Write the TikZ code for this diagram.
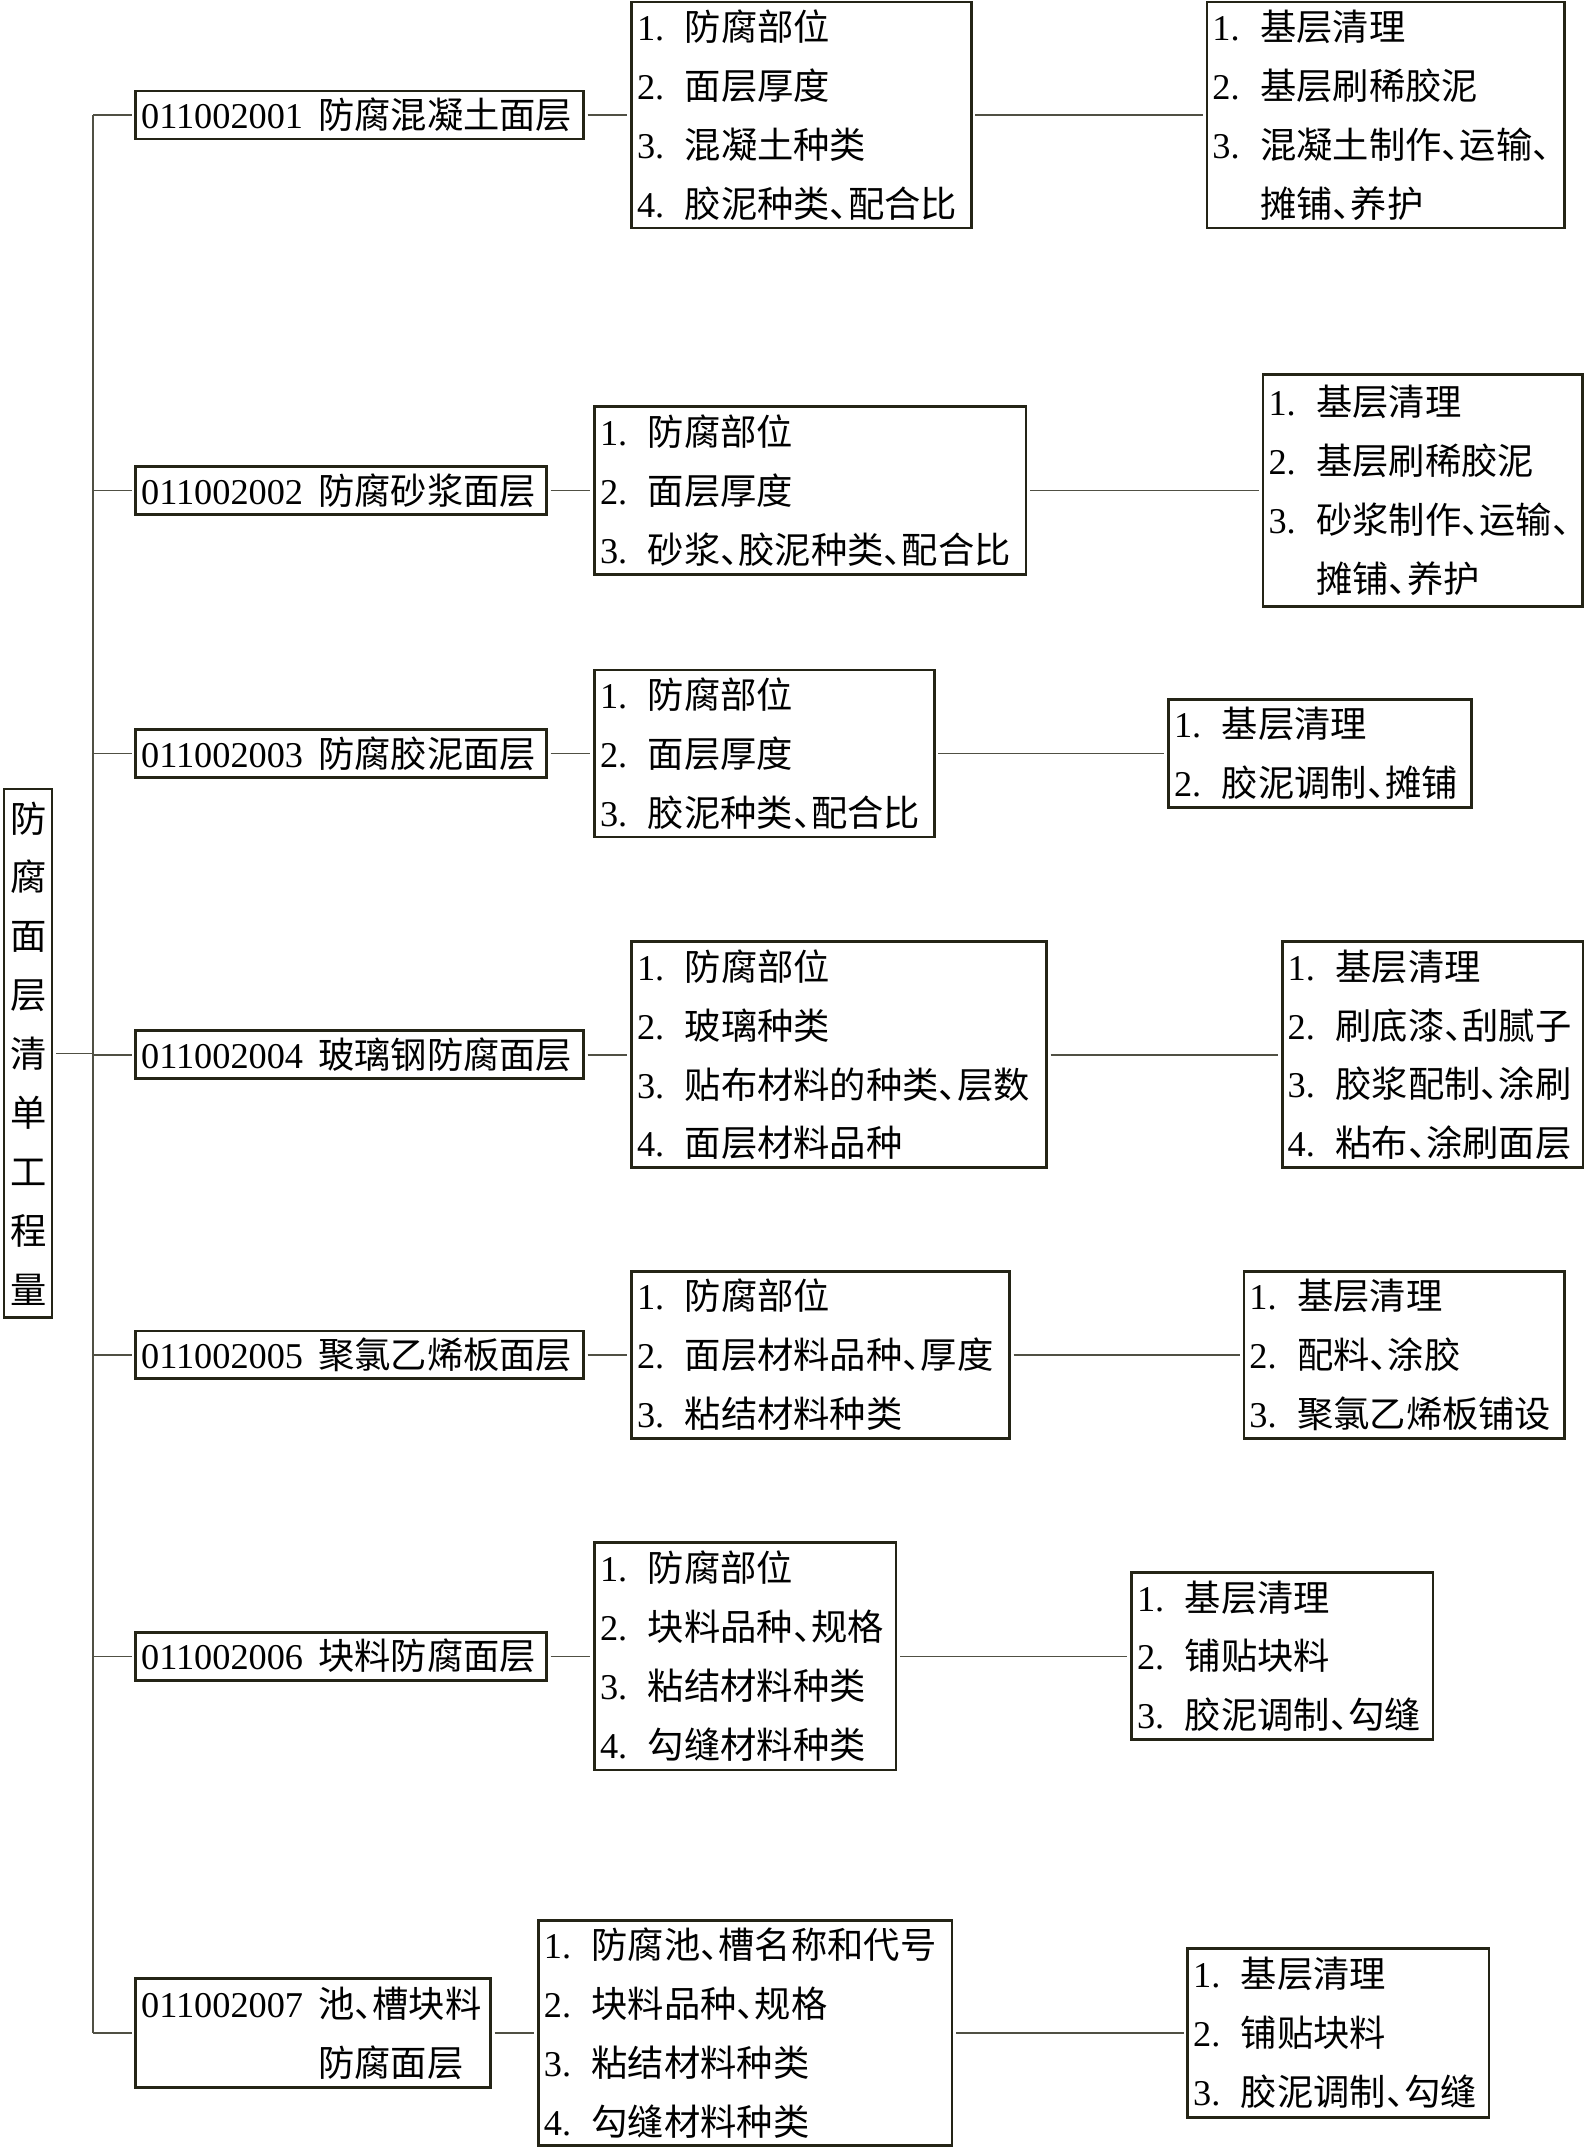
\documentclass[tikz,border=0pt]{standalone}
\usepackage{fontspec}
\setmainfont{Liberation Serif}
\newfontfamily\cjk{Noto Sans CJK SC}
\usetikzlibrary{calc}

\definecolor{boxc}{RGB}{36,36,22}
\definecolor{linec}{RGB}{80,80,68}
\newcommand\fs{\fontsize{26.5}{43}\selectfont}
\newcommand\dun{\makebox[0.5em][l]{、}}
\newcommand\numline[2]{\mbox{#1.\hspace{15pt}{\cjk #2}}}
\newcommand\contline[1]{\mbox{\phantom{0.}\hspace{15pt}{\cjk #1}}}
\newcommand\codeline[2]{\mbox{#1\hspace{11pt}{\cjk #2}}}

\begin{document}
\begin{tikzpicture}[x=1pt,y=-1pt,
  box/.style={draw=boxc,line width=2pt,fill=white,anchor=west,align=left,
    inner xsep=3pt,inner ysep=0pt,font=\fs},
  link/.style={draw=linec,line width=1pt},
  gap/.style={shorten <=2pt,shorten >=2pt}]
\useasboundingbox (0,0) rectangle (1156,1568);

% root
\node[box,align=center,text width=26pt,minimum width=35pt,minimum height=386pt,
  inner xsep=0pt,font=\fs\cjk] (root) at (2,769)
  {防\\腐\\面\\层\\清\\单\\工\\程\\量};

% 011002001
\node[box,minimum width=327pt,minimum height=35pt,text width=319pt] (c1) at (98,84)
  {\codeline{011002001}{防腐混凝土面层}};
\node[box,minimum width=248pt,minimum height=165pt,text width=240pt] (m1) at (460,84)
  {\numline{1}{防腐部位}\\ \numline{2}{面层厚度}\\ \numline{3}{混凝土种类}\\ \numline{4}{胶泥种类\dun 配合比}};
\node[box,minimum width=261pt,minimum height=165pt,text width=253pt] (r1) at (880,84)
  {\numline{1}{基层清理}\\ \numline{2}{基层刷稀胶泥}\\ \numline{3}{混凝土制作\dun 运输\dun}\\ \contline{摊铺\dun 养护}};

% 011002002
\node[box,minimum width=300pt,minimum height=35pt,text width=292pt] (c2) at (98,358)
  {\codeline{011002002}{防腐砂浆面层}};
\node[box,minimum width=315pt,minimum height=123pt,text width=307pt] (m2) at (433,358)
  {\numline{1}{防腐部位}\\ \numline{2}{面层厚度}\\ \numline{3}{砂浆\dun 胶泥种类\dun 配合比}};
\node[box,minimum width=233pt,minimum height=169pt,text width=225pt] (r2) at (921,358)
  {\numline{1}{基层清理}\\ \numline{2}{基层刷稀胶泥}\\ \numline{3}{砂浆制作\dun 运输\dun}\\ \contline{摊铺\dun 养护}};

% 011002003
\node[box,minimum width=300pt,minimum height=35pt,text width=292pt] (c3) at (98,550)
  {\codeline{011002003}{防腐胶泥面层}};
\node[box,minimum width=248pt,minimum height=122pt,text width=240pt] (m3) at (433,550)
  {\numline{1}{防腐部位}\\ \numline{2}{面层厚度}\\ \numline{3}{胶泥种类\dun 配合比}};
\node[box,minimum width=221pt,minimum height=79pt,text width=213pt] (r3) at (852,550)
  {\numline{1}{基层清理}\\ \numline{2}{胶泥调制\dun 摊铺}};

% 011002004
\node[box,minimum width=327pt,minimum height=35pt,text width=319pt] (c4) at (98,770)
  {\codeline{011002004}{玻璃钢防腐面层}};
\node[box,minimum width=303pt,minimum height=165pt,text width=295pt] (m4) at (460,770)
  {\numline{1}{防腐部位}\\ \numline{2}{玻璃种类}\\ \numline{3}{贴布材料的种类\dun 层数}\\ \numline{4}{面层材料品种}};
\node[box,minimum width=220pt,minimum height=165pt,text width=212pt] (r4) at (935,770)
  {\numline{1}{基层清理}\\ \numline{2}{刷底漆\dun 刮腻子}\\ \numline{3}{胶浆配制\dun 涂刷}\\ \numline{4}{粘布\dun 涂刷面层}};

% 011002005
\node[box,minimum width=327pt,minimum height=35pt,text width=319pt] (c5) at (98,989)
  {\codeline{011002005}{聚氯乙烯板面层}};
\node[box,minimum width=276pt,minimum height=122pt,text width=268pt] (m5) at (460,989)
  {\numline{1}{防腐部位}\\ \numline{2}{面层材料品种\dun 厚度}\\ \numline{3}{粘结材料种类}};
\node[box,minimum width=234pt,minimum height=122pt,text width=226pt] (r5) at (907,989)
  {\numline{1}{基层清理}\\ \numline{2}{配料\dun 涂胶}\\ \numline{3}{聚氯乙烯板铺设}};

% 011002006
\node[box,minimum width=300pt,minimum height=35pt,text width=292pt] (c6) at (98,1209)
  {\codeline{011002006}{块料防腐面层}};
\node[box,minimum width=220pt,minimum height=166pt,text width=212pt] (m6) at (433,1209)
  {\numline{1}{防腐部位}\\ \numline{2}{块料品种\dun 规格}\\ \numline{3}{粘结材料种类}\\ \numline{4}{勾缝材料种类}};
\node[box,minimum width=220pt,minimum height=122pt,text width=212pt] (r6) at (825,1209)
  {\numline{1}{基层清理}\\ \numline{2}{铺贴块料}\\ \numline{3}{胶泥调制\dun 勾缝}};

% 011002007
\node[box,minimum width=259pt,minimum height=80pt,text width=251pt] (c7) at (98,1484)
  {\codeline{011002007}{池\dun 槽块料}\\ \mbox{\phantom{011002007}\hspace{11pt}{\cjk 防腐面层}}};
\node[box,minimum width=302pt,minimum height=164pt,text width=294pt] (m7) at (392,1484)
  {\numline{1}{防腐池\dun 槽名称和代号}\\ \numline{2}{块料品种\dun 规格}\\ \numline{3}{粘结材料种类}\\ \numline{4}{勾缝材料种类}};
\node[box,minimum width=220pt,minimum height=123pt,text width=212pt] (r7) at (866,1484)
  {\numline{1}{基层清理}\\ \numline{2}{铺贴块料}\\ \numline{3}{胶泥调制\dun 勾缝}};

% connectors
\coordinate (trunk) at (68,0);
\draw[link,shorten <=2pt] (root.east) -- (trunk |- root.east);
\draw[link] (trunk |- c1.west) -- (trunk |- c7.west);
\foreach \i in {1,...,7}{
  \draw[link,shorten >=2pt] (trunk |- c\i.west) -- (c\i.west);
  \draw[link,gap] (c\i.east) -- (m\i.west);
  \draw[link,gap] (m\i.east) -- (r\i.west);
}
\end{tikzpicture}
\end{document}
